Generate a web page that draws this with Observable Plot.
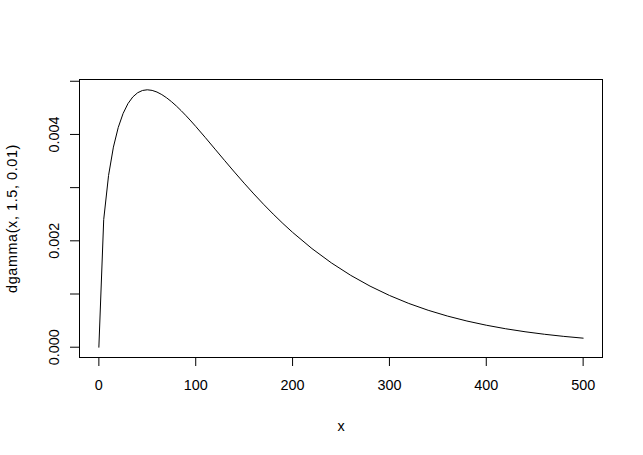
<!DOCTYPE html>
<html>
<head>
<meta charset="utf-8">
<script src="https://cdn.jsdelivr.net/npm/d3@7"></script>
<script src="https://cdn.jsdelivr.net/npm/@observablehq/plot@0.6"></script>
<style>
  html, body { margin: 0; padding: 0; background: #ffffff; }
  #chart svg { display: block; }
</style>
</head>
<body>
<div id="chart"></div>
<script>
// Curve values (density of the plotted curve)
const xValues = [0, 5, 10, 15, 20, 25, 30, 35, 40, 45, 50, 55, 60, 65, 70, 75, 80, 85, 90, 95, 100,
  110, 120, 130, 140, 150, 160, 170, 180, 190, 200,
  220, 240, 260, 280, 300, 320, 340, 360, 380, 400, 420, 440, 460, 480, 500];
const yValues = [0, 0.0024001, 0.0032287, 0.0037615, 0.0041315, 0.0043939, 0.0045786, 0.0047043, 0.0047838, 0.0048265,
  0.0048394, 0.0048281, 0.0047968, 0.0047492, 0.0046881, 0.0046160, 0.0045349, 0.0044465, 0.0043522, 0.0042534, 0.0041511,
  0.0039394, 0.0037230, 0.0035064, 0.0032924, 0.0030836, 0.0028817, 0.0026877, 0.0025025, 0.0023264, 0.0021597,
  0.0018545, 0.0015858, 0.0013514, 0.0011482, 0.00097305, 0.00082279, 0.00069436, 0.00058499, 0.00049208,
  0.00041334, 0.00034678, 0.00029059, 0.00024327, 0.00020345, 0.00017001];

const xTicks = [0, 100, 200, 300, 400, 500];
const yTicks = [0, 0.001, 0.002, 0.003, 0.004, 0.005];
const yTickLabels = ["0.000", "0.002", "0.004"];
const yLabelValues = [0, 0.002, 0.004];
const xTitle = "x";
const yTitle = "dgamma(x, 1.5, 0.01)";

const data = xValues.map((x, i) => ({x, y: yValues[i]}));

const FONT = "'Liberation Sans', Arial, Helvetica, sans-serif";

const chart = Plot.plot({
  width: 643,
  height: 455,
  marginLeft: 79,
  marginRight: 41,
  marginTop: 79,
  marginBottom: 98,
  style: {fontFamily: FONT, fontSize: "14.4px", background: "#ffffff", color: "#000000"},
  x: {domain: [-20, 520]},
  y: {domain: [-0.000193576, 0.00503297]},
  marks: [
    Plot.axisX({ticks: xTicks, tickSize: 9, tickPadding: 13, label: null, stroke: "#000", fill: "#000", fontSize: 14.4}),
    Plot.axisY({ticks: yTicks, tickSize: 9, tickFormat: () => "", label: null, stroke: "#000"}),
    Plot.text(yLabelValues, {
      y: d => d,
      text: (d, i) => yTickLabels[i],
      frameAnchor: "left",
      textAnchor: "middle",
      lineAnchor: "middle",
      dx: -25,
      rotate: -90,
      fontSize: 14.4,
      fill: "#000"
    }),
    Plot.text([yTitle], {
      text: d => d,
      frameAnchor: "left",
      textAnchor: "middle",
      lineAnchor: "middle",
      dx: -67,
      rotate: -90,
      fontSize: 14.4,
      fill: "#000"
    }),
    Plot.text([xTitle], {
      text: d => d,
      frameAnchor: "bottom",
      textAnchor: "middle",
      dy: 73,
      fontSize: 14.4,
      fill: "#000"
    }),
    Plot.line(data, {x: "x", y: "y", stroke: "#000", strokeWidth: 1}),
    Plot.frame({stroke: "#000", strokeWidth: 1})
  ]
});

// widen the axis title spacing slightly to match the reference's text width
d3.select(chart).selectAll("text")
  .filter(function() { return this.textContent === yTitle; })
  .style("letter-spacing", "0.6px");

document.getElementById("chart").appendChild(chart);
</script>
</body>
</html>
